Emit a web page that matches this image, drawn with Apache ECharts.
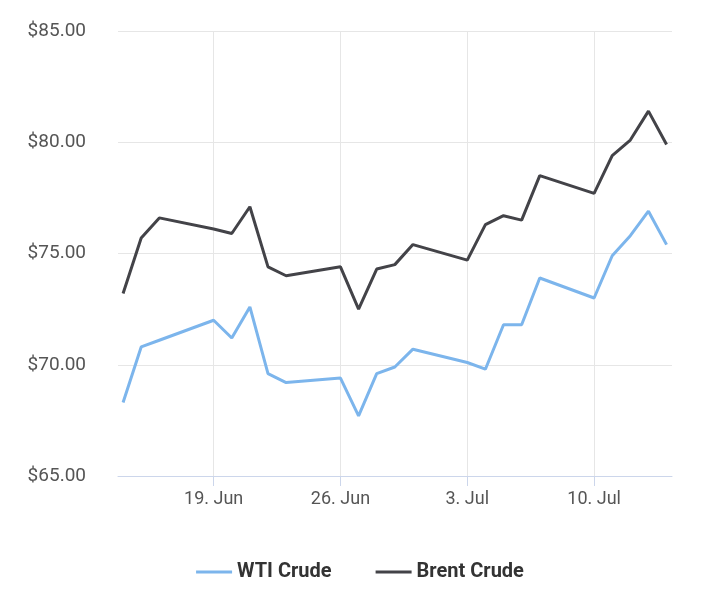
<!DOCTYPE html>
<html>
<head>
<meta charset="utf-8">
<script src="https://cdn.jsdelivr.net/npm/echarts@6/dist/echarts.min.js"></script>
<style>html,body{margin:0;padding:0;background:#fff}#main{width:720px;height:595px}</style>
</head>
<body>
<div id="main"></div>
<script>
var dates = ['2023-06-14','2023-06-15','2023-06-16','2023-06-19','2023-06-20','2023-06-21','2023-06-22','2023-06-23',
  '2023-06-26','2023-06-27','2023-06-28','2023-06-29','2023-06-30','2023-07-03','2023-07-04','2023-07-05',
  '2023-07-06','2023-07-07','2023-07-10','2023-07-11','2023-07-12','2023-07-13','2023-07-14'];
var wti = [68.3, 70.8, 71.1, 72.0, 71.2, 72.6, 69.6, 69.2, 69.4, 67.7, 69.6, 69.9, 70.7, 70.1, 69.8, 71.8, 71.8, 73.9, 73.0, 74.9, 75.8, 76.9, 75.4];
var brent = [73.2, 75.7, 76.6, 76.1, 75.9, 77.1, 74.4, 74.0, 74.4, 72.5, 74.3, 74.5, 75.4, 74.7, 76.3, 76.7, 76.5, 78.5, 77.7, 79.4, 80.1, 81.4, 79.9];
var tickDates = ['2023-06-19','2023-06-26','2023-07-03','2023-07-10'];
var months = ['Jan','Feb','Mar','Apr','May','Jun','Jul','Aug','Sep','Oct','Nov','Dec'];

function ts(s) { return Date.parse(s + 'T00:00:00Z'); }
var day = 86400000;
var chart = echarts.init(document.getElementById('main'));
var ticks = tickDates.map(ts);
chart.setOption({
  animation: false,
  textStyle: { fontFamily: 'Roboto' },
  grid: { left: 118, right: 48, top: 31, bottom: 119 },
  legend: {
    bottom: 8, itemGap: 44, itemWidth: 36, itemHeight: 3, icon: 'rect',
    textStyle: { fontSize: 20, fontWeight: 'bold', color: '#333' },
    data: ['WTI Crude', 'Brent Crude']
  },
  xAxis: {
    type: 'value',
    min: ts(dates[0]) - 0.28 * day,
    max: ts(dates[dates.length - 1]) + 0.3 * day,
    axisLine: { lineStyle: { color: '#ccd6eb' } },
    axisTick: { show: true, customValues: ticks, length: 10, lineStyle: { color: '#ccd6eb' } },
    splitLine: { show: true, lineStyle: { color: '#e6e6e6' } },
    axisLabel: {
      customValues: ticks, color: '#555', fontSize: 18, margin: 14,
      formatter: function (v) { var d = new Date(v); return d.getUTCDate() + '. ' + months[d.getUTCMonth()]; }
    }
  },
  yAxis: {
    type: 'value', min: 65, max: 85, interval: 5,
    axisLine: { show: false }, axisTick: { show: false },
    splitLine: { lineStyle: { color: '#e6e6e6' } },
    axisLabel: { color: '#555', fontSize: 19, margin: 32, formatter: function (v) { return '$' + v.toFixed(2); } }
  },
  series: [
    { name: 'WTI Crude', type: 'line', showSymbol: false, color: '#7cb5ec', lineStyle: { width: 3 },
      data: dates.map(function (d, i) { return [ts(d), wti[i]]; }) },
    { name: 'Brent Crude', type: 'line', showSymbol: false, color: '#434348', lineStyle: { width: 3 },
      data: dates.map(function (d, i) { return [ts(d), brent[i]]; }) }
  ]
});
</script>
</body>
</html>
